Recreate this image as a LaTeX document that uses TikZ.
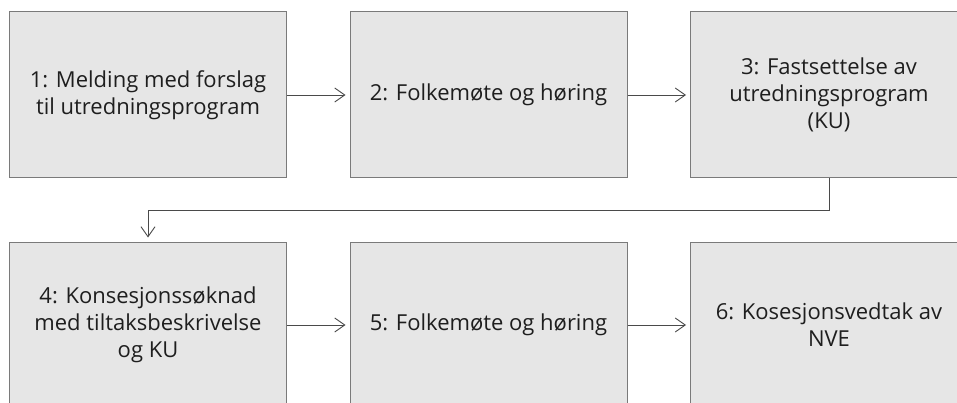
\documentclass[tikz,border=0pt]{standalone}
\usepackage{fontspec}
\setmainfont{Open Sans}
\usepackage{tikz}
\usetikzlibrary{
	arrows.meta,
	positioning
}
\definecolor{boxfill}{HTML}{E6E6E6}
\definecolor{boxline}{HTML}{7A7A7A}
\definecolor{pilline}{HTML}{4A4A4A}
\definecolor{tekst}{HTML}{1E1E1E}
\tikzset{
%Define standard arrow tip
>={Straight Barb[length=10pt,width=14pt]},
%Define style for boxes
steg/.style={
	rectangle,
	draw=boxline, line width=1pt,
	fill=boxfill,
	text=tekst,
	align=center,
	minimum width=277pt,
	minimum height=166pt,
	inner sep=0pt},
% Define arrow style
pil/.style={
	->,
	draw=pilline,
	line width=0.9pt,
	shorten >=4pt,}
}

\begin{document}
\begin{tikzpicture}[x=1pt,y=1pt]
				\tikzstyle{every node}=[font=\fontsize{22}{27}\selectfont]
				\useasboundingbox (0,0) rectangle (957,-403);
				\node[steg] (melding) at (148,-95) {1: Melding med forslag\\til utredningsprogram};
				\node[steg, right=62.5pt of melding] (folkemote) {2: Folkemøte og høring};
				\node[steg, right=62.5pt of folkemote] (fastsettelse) {3: Fastsettelse av\\utredningsprogram\\(KU)};
				\node[steg, below=63pt of melding] (soknad) {4: Konsesjonssøknad\\med tiltaksbeskrivelse\\og KU};
				\node[steg, right=62.5pt of soknad] (folkemote2) {5: Folkemøte og høring};
				\node[steg, right=62.5pt of folkemote2] (vedtak) {6: Kosesjonsvedtak av\\NVE};
				\draw[pil] (melding) -- (folkemote);
				\draw[pil] (folkemote) -- (fastsettelse);
				\draw[pil] (fastsettelse.south) -- ++(0,-32) -| (soknad.north);
				\draw[pil] (soknad) -- (folkemote2);
				\draw[pil] (folkemote2) -- (vedtak);
			\end{tikzpicture}
\end{document}
